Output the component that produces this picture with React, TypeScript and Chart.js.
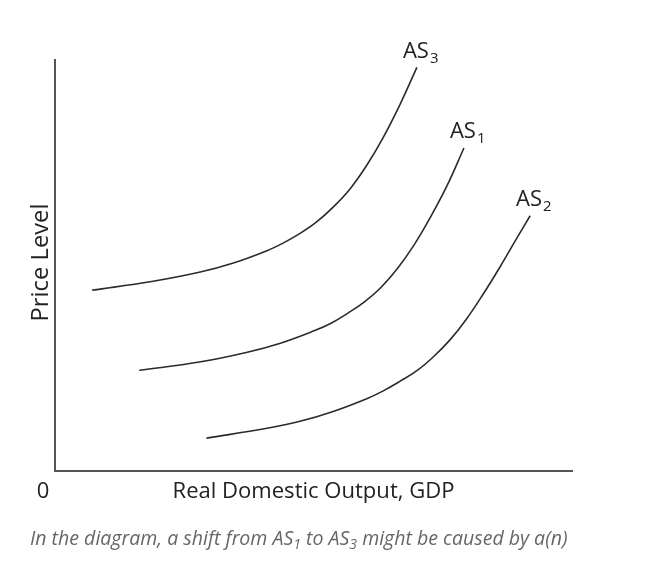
import React, { useEffect, useRef } from "react";
import { Chart, registerables } from "chart.js";

Chart.register(...registerables);

// Curve data (x = real output, y = price level)
const as3X = [7.2, 18.7, 28.1, 34.5, 41.0, 44.2, 47.4, 50.6, 53.8, 57.1, 60.3, 63.5, 66.7, 70.0];
const as3Y = [44.0, 46.1, 48.4, 50.6, 53.6, 55.5, 57.8, 60.6, 64.2, 68.7, 74.4, 81.2, 89.1, 98.2];
const as1X = [16.3, 27.9, 37.2, 43.6, 50.1, 53.3, 56.5, 59.8, 63.0, 66.2, 69.4, 72.6, 75.9, 79.1];
const as1Y = [24.5, 26.5, 28.9, 31.1, 34.1, 35.9, 38.3, 41.1, 44.6, 49.2, 54.9, 61.7, 69.6, 78.6];
const as2X = [29.3, 41.0, 47.4, 53.8, 60.3, 63.5, 66.7, 70.0, 73.2, 76.4, 79.6, 82.8, 86.1, 89.3, 91.9];
const as2Y = [8.0, 10.4, 12.1, 14.5, 17.6, 19.5, 21.8, 24.4, 27.8, 31.9, 37.0, 43.0, 49.7, 56.6, 62.1];

const curveNames = ["AS", "AS", "AS"];
const curveSubs = ["3", "1", "2"];
const xTitle = "Real Domestic Output, GDP";
const yTitle = "Price Level";
const originLabel = "0";
const captionParts = ["In the diagram, a shift from AS", "1", " to AS", "3", " might be caused by a(n)"];

const FONT = "'Open Sans', Lato, sans-serif";

function pts(xs: number[], ys: number[]) {
  return xs.map((x, i) => ({ x, y: ys[i] }));
}

function fitSize(ctx: CanvasRenderingContext2D, text: string, style: string, target: number) {
  ctx.font = `${style} 20px ${FONT}`;
  const w = ctx.measureText(text).width;
  return (20 * target) / w;
}

const textPlugin = {
  id: "textPlugin",
  afterDraw(chart: any) {
    const ctx = chart.ctx as CanvasRenderingContext2D;
    const area = chart.chartArea;
    const xs = chart.scales.x;
    const ys = chart.scales.y;
    ctx.save();
    ctx.fillStyle = "#222";
    ctx.textBaseline = "alphabetic";

    // origin and x title
    const titleSize = fitSize(ctx, xTitle, "", 282);
    ctx.font = `${titleSize}px ${FONT}`;
    ctx.textAlign = "center";
    ctx.fillText(originLabel, area.left - 12, area.bottom + 27);
    ctx.fillText(xTitle, (area.left + area.right) / 2, area.bottom + 27);

    // y title
    ctx.save();
    ctx.translate(area.left - 7, (area.top + area.bottom) / 2 - 3);
    ctx.rotate(-Math.PI / 2);
    ctx.textAlign = "center";
    const ySize = fitSize(ctx, yTitle, "", 118);
    ctx.font = `${ySize}px ${FONT}`;
    ctx.fillText(yTitle, 0, 0);
    ctx.restore();

    // curve labels
    ctx.textAlign = "left";
    const asSize = fitSize(ctx, "AS", "", 26);
    chart.data.datasets.forEach((ds: any, i: number) => {
      const last = ds.data[ds.data.length - 1];
      const px = xs.getPixelForValue(last.x) - 14;
      const py = ys.getPixelForValue(last.y) - 9.5;
      ctx.font = `${asSize}px ${FONT}`;
      ctx.fillText(curveNames[i], px, py);
      const w = ctx.measureText(curveNames[i]).width;
      ctx.font = `${asSize * 0.68}px ${FONT}`;
      ctx.fillText(curveSubs[i], px + w + 1, py + 5);
    });

    // caption
    ctx.fillStyle = "#666";
    const full = captionParts.join("");
    const capSize = fitSize(ctx, full, "italic", 544);
    let cx = 30;
    const cy = area.bottom + 74;
    captionParts.forEach((part, i) => {
      const isSub = i === 1 || i === 3;
      ctx.font = isSub ? `italic ${capSize * 0.72}px ${FONT}` : `italic ${capSize}px ${FONT}`;
      ctx.fillText(part, cx, isSub ? cy + 4 : cy);
      cx += ctx.measureText(part).width;
    });
    ctx.restore();
  },
};

export default function App() {
  const ref = useRef<HTMLCanvasElement | null>(null);

  useEffect(() => {
    if (!ref.current) return;
    const lineStyle = {
      borderColor: "#2b2b2b",
      borderWidth: 1.6,
      pointRadius: 0,
      showLine: true,
      fill: false,
      tension: 0.4,
    };
    const chart = new Chart(ref.current, {
      type: "scatter",
      data: {
        datasets: [
          { label: "AS3", data: pts(as3X, as3Y), ...lineStyle },
          { label: "AS1", data: pts(as1X, as1Y), ...lineStyle },
          { label: "AS2", data: pts(as2X, as2Y), ...lineStyle },
        ],
      },
      options: {
        animation: false,
        responsive: false,
        devicePixelRatio: 1,
        layout: { padding: { left: 55, right: 81, top: 60, bottom: 92 } },
        plugins: { legend: { display: false }, tooltip: { enabled: false } },
        scales: {
          x: {
            type: "linear",
            min: 0,
            max: 100,
            ticks: { display: false },
            grid: { display: false, drawTicks: false },
            border: { display: true, color: "#555", width: 2 },
          },
          y: {
            type: "linear",
            min: 0,
            max: 100,
            ticks: { display: false },
            grid: { display: false, drawTicks: false },
            border: { display: true, color: "#555", width: 2 },
          },
        },
      },
      plugins: [textPlugin],
    });
    return () => chart.destroy();
  }, []);

  return (
    <div style={{ position: "absolute", left: 0, top: 0, width: 653, height: 563, background: "#fff" }}>
      <canvas ref={ref} width={653} height={563} style={{ display: "block" }} />
    </div>
  );
}
